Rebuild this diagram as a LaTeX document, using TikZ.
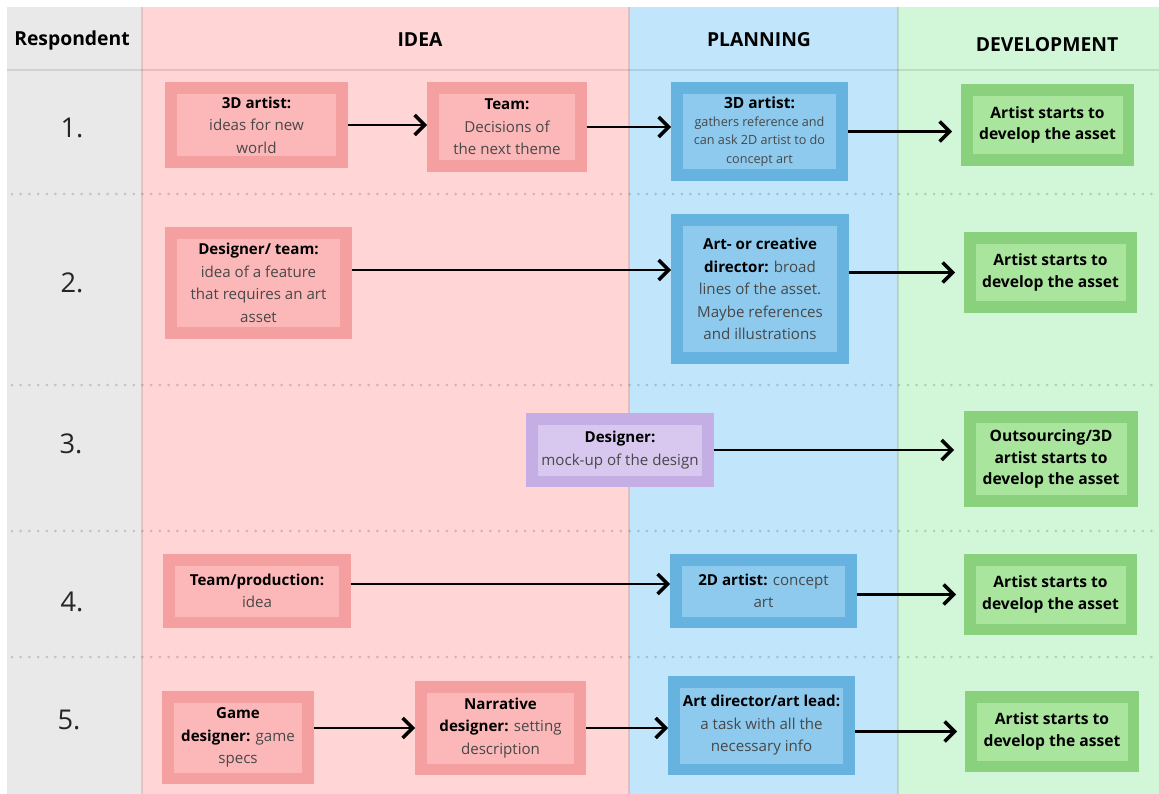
\documentclass[tikz,border=0pt]{standalone}
\usepackage{fontspec}
\setmainfont{Open Sans}
\usepackage{tikz}
\usetikzlibrary{arrows.meta,calc}

\definecolor{respBg}{HTML}{E9E9E9}
\definecolor{ideaBg}{HTML}{FFD5D5}
\definecolor{planBg}{HTML}{C1E5FB}
\definecolor{devBg}{HTML}{D2F7D8}
\definecolor{ideaD}{HTML}{F4A0A1}
\definecolor{ideaL}{HTML}{FCB8B9}
\definecolor{planD}{HTML}{66B3DF}
\definecolor{planL}{HTML}{8DCAEE}
\definecolor{devD}{HTML}{89D17D}
\definecolor{devL}{HTML}{A9E59C}
\definecolor{desD}{HTML}{C4AEE3}
\definecolor{desL}{HTML}{D8C8EF}
\definecolor{txt}{HTML}{484848}

\begin{document}
\begin{tikzpicture}
	[
	 x = 0.02cm,
	 y = -0.02cm,
	 every node/.style = {align=center,
	                      inner sep = 0pt,
	                      text = txt,
	                      font = \fontsize{8.6}{12.8}\selectfont
	                     },
	 box/.style  = {line width = 0.23cm},
	 Idea/.style = {box, draw=ideaD, fill=ideaL},
	 Plan/.style = {box, draw=planD, fill=planL},
	 Des/.style  = {box, draw=desD, fill=desL},
	 Dev/.style  = {box, draw=devD, fill=devL,
	                text = black,
	                font = \fontsize{8.9}{12.2}\selectfont\bfseries},
	 Head/.style = {text = black, font = \fontsize{11}{13}\selectfont\bfseries},
	 Num/.style  = {text = black!85, font = \fontsize{15.5}{18}\selectfont},
	 flow/.style = {-{Straight Barb[length=2mm,width=4mm,line width=2pt]},
	                line width=1.2pt},
	 sep/.style  = {black, opacity=0.16, line width=0.06cm, line cap=round,
	                dash pattern=on 0pt off 0.174cm},
	 rule/.style = {black, opacity=0.1, line width=0.04cm}
	]

	\newcommand{\hd}[1]{{\color{black}\bfseries #1}}
	\newcommand{\AS}{Artist starts to\\ develop the asset}

	\useasboundingbox (0,0) rectangle (1159,794);
	\fill[respBg] (7,7)   rectangle (142,794);
	\fill[ideaBg] (142,7) rectangle (629,794);
	\fill[planBg] (629,7) rectangle (898,794);
	\fill[devBg]  (898,7) rectangle (1159,794);

	\draw[rule] (7,70) -- (1159,70);
	\foreach \x in {142,629,898}
	  \draw[rule] (\x,7) -- (\x,794);
	\foreach \y in {194,385,531,657}
	  \draw[sep] (12,\y) -- (1159,\y);

	\node[Head] (hR) at (72,40)   {Respondent};
	\node[Head] (hI) at (420,40)  {IDEA};
	\node[Head] (hP) at (759,40)  {PLANNING};
	\node[Head] (hD) at (1047,45) {DEVELOPMENT};

	\node[Num] (n1) at (72,128) {1.};
	\node[Num] (n2) at (72,283) {2.};
	\node[Num] (n3) at (71,444) {3.};
	\node[Num] (n4) at (72,602) {4.};
	\node[Num] (n5) at (69,720) {5.};

	\node[Idea, minimum width=3.43cm, minimum height=1.49cm] (A1) at (256.5,125)
	     {\hd{3D artist:}\\ ideas for new\\ world};
	\node[Idea, minimum width=2.97cm, minimum height=1.57cm] (A2) at (507,127)
	     {\hd{Team:}\\ Decisions of\\ the next theme};
	\node[Plan, minimum width=3.31cm, minimum height=1.75cm,
	      font=\fontsize{7.2}{10.4}\selectfont] (A3) at (759.5,131.5)
	     {{\fontsize{8.8}{10.4}\selectfont\hd{3D artist:}}\\ gathers reference and\\
	      can ask 2D artist to do\\ concept art};
	\node[Dev, minimum width=3.23cm, minimum height=1.41cm] (A4) at (1047.5,125) {\AS};

	\node[Idea, minimum width=3.51cm, minimum height=2.01cm] (B1) at (258.5,283)
	     {\hd{Designer/ team:}\\ idea of a feature\\ that requires an art\\ asset};
	\node[Plan, minimum width=3.33cm, minimum height=2.77cm] (B2) at (760,289)
	     {\hd{Art- or creative}\\ \hd{director:} broad\\ lines of the asset.\\
	      Maybe references\\ and illustrations};
	\node[Dev, minimum width=3.23cm, minimum height=1.39cm] (B3) at (1050.5,272.5) {\AS};

	\node[Des, minimum width=3.53cm, minimum height=1.25cm] (C1) at (620,450)
	     {\hd{Designer:}\\ mock-up of the design};
	\node[Dev, minimum width=3.25cm, minimum height=1.69cm] (C2) at (1051,459)
	     {Outsourcing/3D\\ artist starts to\\ develop the asset};

	\node[Idea, minimum width=3.53cm, minimum height=1.25cm] (D1) at (257,591)
	     {\hd{Team/production:}\\ idea};
	\node[Plan, minimum width=3.51cm, minimum height=1.25cm] (D2) at (763.5,591)
	     {\hd{2D artist:} concept\\ art};
	\node[Dev, minimum width=3.23cm, minimum height=1.39cm] (D3) at (1050.5,594.5) {\AS};

	\node[Idea, minimum width=2.81cm, minimum height=1.63cm] (E1) at (238,737.5)
	     {\hd{Game}\\ \hd{designer:} game\\ specs};
	\node[Idea, minimum width=3.19cm, minimum height=1.65cm] (E2) at (500.5,728)
	     {\hd{Narrative}\\ \hd{designer:} setting\\ description};
	\node[Plan, minimum width=3.51cm, minimum height=1.75cm] (E3) at (761.5,725.5)
	     {\hd{Art director/art lead:}\\ a task with all the\\ necessary info};
	\node[Dev, minimum width=3.25cm, minimum height=1.39cm] (E4) at (1052,731.5) {\AS};

	\begin{scope}[flow]
	  \draw (A1.east) -- (A1.east -| A2.west);
	  \draw (A2.east) -- (A2.east -| A3.west);
	  \draw[shorten >=0.18cm] (A3.east) -- (A3.east -| A4.west);
	  \draw ([yshift=0.26cm]B1.east) -- ([yshift=0.26cm]B1.east -| B2.west);
	  \draw[shorten >=0.18cm] (B2.east |- B3.west) -- (B3.west);
	  \draw[shorten >=0.2cm] (C1.east) -- (C1.east -| C2.west);
	  \draw ([yshift=0.14cm]D1.east) -- ([yshift=0.14cm]D1.east -| D2.west);
	  \draw[shorten >=0.16cm] (D2.east |- D3.west) -- (D3.west);
	  \draw (E1.east |- E2.west) -- (E2.west);
	  \draw (E2.east) -- (E2.east -| E3.west);
	  \draw[shorten >=0.16cm] (E3.east |- E4.west) -- (E4.west);
	\end{scope}
\end{tikzpicture}
\end{document}
